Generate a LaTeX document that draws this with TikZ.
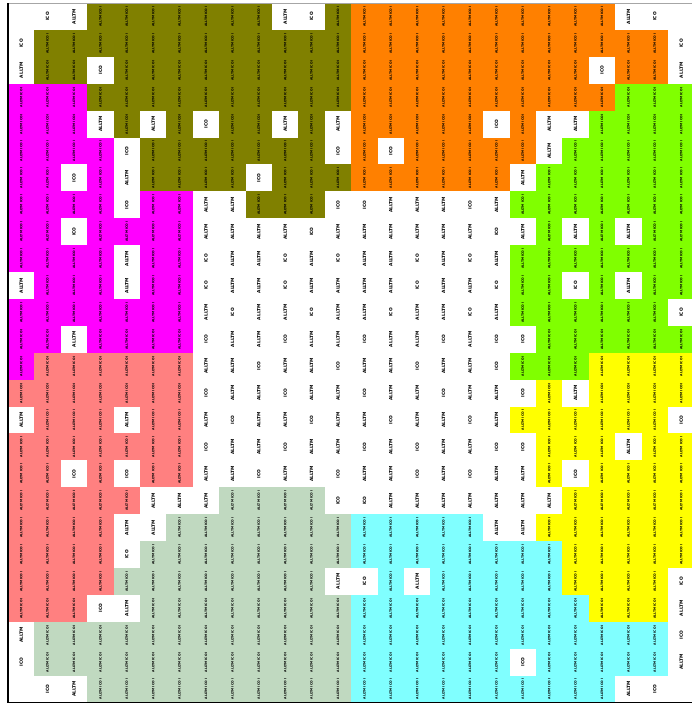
\documentclass[tikz,border=0pt]{standalone}
\usepackage{tikz}
\usepackage{xstring}
\usepackage{fontspec}
\setsansfont{DejaVu Sans}

\definecolor{mapolive}{HTML}{808000}
\definecolor{maporange}{HTML}{FF8000}
\definecolor{mapmagenta}{HTML}{FF00FF}
\definecolor{mapgreen}{HTML}{80FF00}
\definecolor{mapsalmon}{HTML}{FF8080}
\definecolor{mapyellow}{HTML}{FFFF00}
\definecolor{mapsage}{HTML}{C0D9C0}
\definecolor{mapcyan}{HTML}{80FFFF}

\newcommand\streaktext{ALLTM ICO I}

\tikzset{
  cellbox/.style={minimum width=26.4pt, minimum height=26.9pt, inner sep=0pt, outer sep=0pt},
  tag/.style={anchor=center, rotate=90, inner sep=0pt, font=\fontsize{4.4}{5}\selectfont\sffamily\bfseries},
  streak/.style={anchor=center, rotate=90, inner sep=0pt, font=\fontsize{3.1}{3.5}\selectfont\sffamily\bfseries},
  cell O/.style={cellbox, fill=mapolive, label={[streak]center:\streaktext}},
  cell R/.style={cellbox, fill=maporange, label={[streak]center:\streaktext}},
  cell M/.style={cellbox, fill=mapmagenta, label={[streak]center:\streaktext}},
  cell G/.style={cellbox, fill=mapgreen, label={[streak]center:\streaktext}},
  cell S/.style={cellbox, fill=mapsalmon, label={[streak]center:\streaktext}},
  cell Y/.style={cellbox, fill=mapyellow, label={[streak]center:\streaktext}},
  cell E/.style={cellbox, fill=mapsage, label={[streak]center:\streaktext}},
  cell C/.style={cellbox, fill=mapcyan, label={[streak]center:\streaktext}},
  cell a/.style={cellbox, fill=white, label={[tag]center:ICO}},
  cell b/.style={cellbox, fill=white, label={[tag]center:ALLTM}},
  cell w/.style={cellbox, fill=white},
}

\begin{document}
\begin{tikzpicture}[x=1pt, y=1pt]
  \useasboundingbox (0,0) rectangle (692,-705);

  % Region map, one string per row of cells
  \foreach \line [count=\r from 0] in {
      wabOOOOOOObaORRRRRRRRRRbaw,
      aOOOOOOOOOOOORRRRRRRRRRRRa,
      bOOaOOOOOOOOORRRRRRRRRaRRb,
      MMMOOOOOOOOOORRRRRRRRRRGGG,
      MMMbObOaOObObRRRRRaRbbGGGG,
      MMMMaOOOOOOOaRaRRRRRbGGGGG,
      MMaMbOOOOaOOORRRRRRbGGGGGG,
      MMMMaMMbbOOOaabbbabGGGGGGG,
      MMaMMMMbbbbabbbbbbabGbGbGG,
      MMMMbMMabbababbababGGGGGGG,
      bMMMbMMabbabbbbabbaGGaGbGG,
      MMMMMMMbabbabbabbabGGGGGGa,
      MMbMMMMabbabbabbabaaGGGGGG,
      MSSSSSSbbabbabbabbaGGGYYYY,
      SSSSSSSabbabbabbabbaYbYYYY,
      bSSSbSSbabbabbabbabYYYYYYa,
      SSSSSSSabbabbababbaaYYYbYY,
      SSaSaSSbbabbabbababbYaYYYY,
      SSSSSbbbEEEEaabbbbbbbYYYYY,
      SSSSbbEEEEEEECCCCCbbYYYYYY,
      SSSSaEEEEEEEECCCCCCCCYYYYY,
      SSSSEEEEEEEEbaCbCCCCCYYYYa,
      SSSabEEEEEEEECCCCCCCCCYYYb,
      bEEEEEEEEEEEECCCCCCCCCCCCa,
      aEEEEEEEEEEEECCCCCCaCCCCCb,
      wabEEEEEEEEEECCCCCCCCCCbaw} {
    \foreach \c in {0,...,25} {
      \StrChar{\line}{\numexpr\c+1\relax}[\k]
      \pgfmathsetmacro\cx{8+26.4*\c+13.2}
      \pgfmathsetmacro\cy{-(3+26.9*\r+13.45)}
      \node[cell \k] (cell-\r-\c) at (\cx,\cy) {};
    }
  }

  % Frame
  \draw[gray!70, line width=0.8pt] (8,-3) -- (692,-3);
  \draw[line width=1.4pt] (8,-3) -- (8,-702.5) -- (692,-702.5);
\end{tikzpicture}
\end{document}
